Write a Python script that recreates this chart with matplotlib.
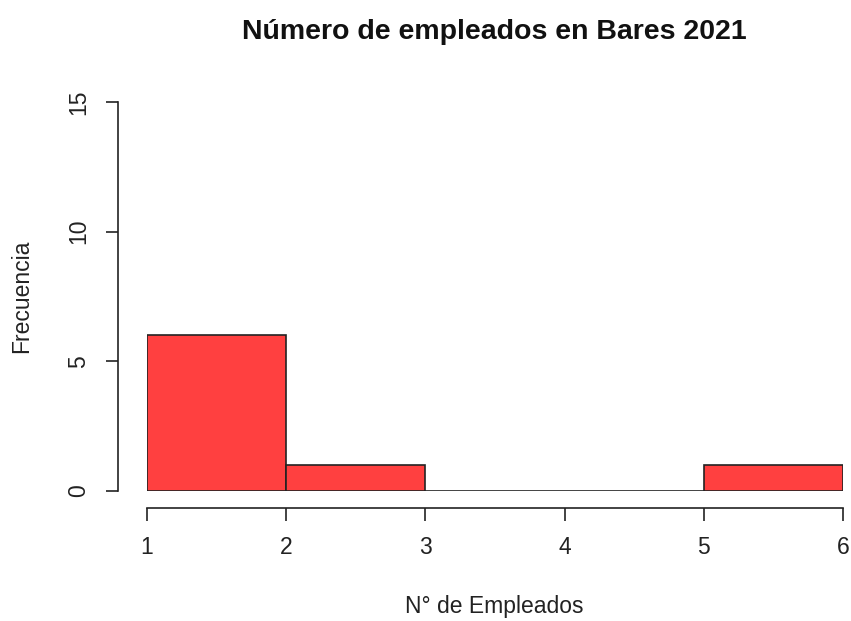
import matplotlib
matplotlib.use("Agg")
import matplotlib.pyplot as plt

plt.rcParams["font.family"] = ["Liberation Sans", "DejaVu Sans"]

# histogram data
bin_edges = [1, 2, 3, 4, 5, 6]
counts = [6, 1, 0, 0, 1]
y_ticks = [0, 5, 10, 15]
x_ticks = [1, 2, 3, 4, 5, 6]

title = "Número de empleados en Bares 2021"
x_label = "N° de Empleados"
y_label = "Frecuencia"

fig = plt.figure(figsize=(8.51, 6.21), dpi=100)
ax = fig.add_axes([147 / 851, 130 / 621, 696 / 851, 389 / 621])

widths = [b - a for a, b in zip(bin_edges[:-1], bin_edges[1:])]
ax.bar(bin_edges[:-1], counts, width=widths, align="edge",
       color="#FF4040", edgecolor="#222222", linewidth=1.2)

ax.set_xlim(1, 6)
ax.set_ylim(0, 15)
ax.set_xticks(x_ticks)
ax.set_yticks(y_ticks)

for side in ("top", "right"):
    ax.spines[side].set_visible(False)
ax.spines["left"].set_position(("outward", 29 * 0.72))
ax.spines["bottom"].set_position(("outward", 17 * 0.72))
ax.spines["left"].set_bounds(0, 15)
ax.spines["bottom"].set_bounds(1, 6)
for side in ("left", "bottom"):
    ax.spines[side].set_color("#222222")
    ax.spines[side].set_linewidth(1.2)

ax.tick_params(axis="both", length=9, width=1.2, color="#222222",
               labelsize=16.5, labelcolor="#222222")
ax.tick_params(axis="x", pad=11)
ax.tick_params(axis="y", pad=11, labelrotation=90)
for lbl in ax.get_yticklabels():
    lbl.set_va("center")

fig.text(494 / 851, 1 - 32 / 621, title, ha="center", va="center",
         fontsize=20.5, fontweight="bold", color="#111111")
fig.text(494 / 851, 1 - 607 / 621, x_label, ha="center", va="center",
         fontsize=16.5, color="#222222")
fig.text(22 / 851, 1 - 296 / 621, y_label, ha="center", va="center",
         fontsize=16.5, color="#222222", rotation=90)

fig.savefig("out.png", dpi=100)
